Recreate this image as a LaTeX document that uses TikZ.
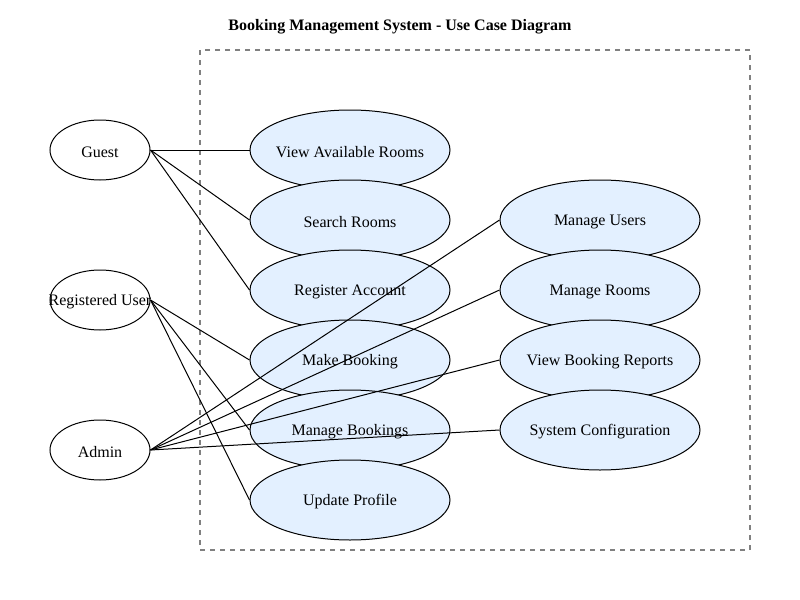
\documentclass[tikz,border=0pt]{standalone}
\usepackage{fontspec}
\setmainfont{Liberation Serif}
\usetikzlibrary{shapes.geometric}
\definecolor{ucfill}{HTML}{E3F0FF}
\definecolor{sysgray}{HTML}{808080}
\begin{document}
\begin{tikzpicture}[x=0.75pt,y=-0.75pt,
  usecase/.style={ellipse,draw=black,line width=0.75pt,fill=ucfill,minimum width=150pt,minimum height=60pt,inner sep=0pt,label={[font=\fontsize{12pt}{14pt}\selectfont,yshift=-1.5pt]center:#1}},
  actor/.style={ellipse,draw=black,line width=0.75pt,fill=white,minimum width=75pt,minimum height=45pt,inner sep=0pt,label={[font=\fontsize{12pt}{14pt}\selectfont,yshift=-1.5pt]center:#1}},
  assoc/.style={draw=black,line width=0.75pt},
  sysbox/.style={draw=sysgray,line width=1.1pt,dash pattern=on 3.75pt off 3.75pt}]
\useasboundingbox (0,0) rectangle (800,600);
\node[font=\bfseries\fontsize{12pt}{14pt}\selectfont] (title) at (400,27) {Booking Management System - Use Case Diagram};
\draw[sysbox] (200,50) rectangle (750,550);
% left column use cases
\node[usecase={View Available Rooms}] (u1) at (350,150) {};
\node[usecase={Search Rooms}] (u2) at (350,220) {};
\node[usecase={Register Account}] (u3) at (350,290) {};
\node[usecase={Make Booking}] (u4) at (350,360) {};
\node[usecase={Manage Bookings}] (u5) at (350,430) {};
\node[usecase={Update Profile}] (u6) at (350,500) {};
% right column use cases
\node[usecase={Manage Users}] (a1) at (600,220) {};
\node[usecase={Manage Rooms}] (a2) at (600,290) {};
\node[usecase={View Booking Reports}] (a3) at (600,360) {};
\node[usecase={System Configuration}] (a4) at (600,430) {};
% actors
\node[actor={Guest}] (guest) at (100,150) {};
\node[actor={Registered User}] (reg) at (100,300) {};
\node[actor={Admin}] (admin) at (100,450) {};
% associations
\draw[assoc] (guest.east) -- (u1.west);
\draw[assoc] (guest.east) -- (u2.west);
\draw[assoc] (guest.east) -- (u3.west);
\draw[assoc] (reg.east) -- (u4.west);
\draw[assoc] (reg.east) -- (u5.west);
\draw[assoc] (reg.east) -- (u6.west);
\draw[assoc] (admin.east) -- (a1.west);
\draw[assoc] (admin.east) -- (a2.west);
\draw[assoc] (admin.east) -- (a3.west);
\draw[assoc] (admin.east) -- (a4.west);
\end{tikzpicture}
\end{document}
